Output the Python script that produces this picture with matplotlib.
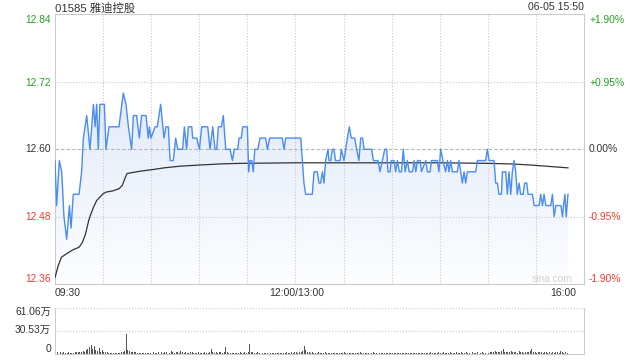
import numpy as np
import matplotlib
matplotlib.use('Agg')
import matplotlib.pyplot as plt
from matplotlib.patches import Polygon

plt.rcParams['font.family'] = ['Liberation Sans', 'Noto Sans CJK SC', 'DejaVu Sans']

# chart data (minutes from 09:30, trading minutes only; 150 = 12:00/13:00)
title = '01585 雅迪控股'
stamp = '06-05 15:50'
prev_close = 12.60

price_min = [0, 1, 2.7, 4.2, 5.6, 7.3, 9, 10, 11.4, 15, 16.6, 17.7, 19.8, 21.8, 24, 25, 26, 27, 28,
             30.8, 31.8, 33.7, 39.9, 42.6, 44.3, 45.8, 47.8, 48.9, 50.9, 52.6, 54, 56.8, 58.2, 58.9,
             59.9, 62.4, 63.8, 65.9, 68, 69.2, 70.7, 71.8, 73.8, 75.3, 76.5, 79.6, 80.7, 82.1, 83.2,
             85.3, 85.9, 88.4, 90.1, 91.5, 95.3, 96.7, 98.4, 99.8, 100.9, 101.9, 103.8, 105, 106.5,
             109.2, 110.7, 111.8, 114, 114.8, 116.2, 117.1, 120, 120.8, 121.6, 122.7, 123.7, 124.6,
             126.6, 127.9, 131.4, 132.5, 133.9, 141.8, 142.9, 143.9, 150, 153.3, 155.3, 156.4, 160.5,
             161.6, 163.6, 164.7, 165.7, 166.8, 167.8, 168.8, 170.3, 170.9, 172, 173, 174, 175, 177.8,
             178.6, 180.3, 181.3, 182.4, 183.6, 184.8, 186.9, 188.2, 189.6, 190.7, 191.9, 192.8, 197.5,
             198.6, 201.5, 202.7, 204.2, 205.7, 206.9, 207.7, 209, 209.8, 211.5, 212.5, 213.6, 214.8,
             216.1, 217.3, 218.4, 219.8, 220.9, 223, 224, 225.1, 226.1, 227.8, 228.6, 231.3, 232.3,
             234, 234.8, 238.5, 239.5, 240.6, 242, 243.7, 244.8, 245.8, 246.8, 247.9, 251, 252, 253.1,
             254.1, 255.2, 256.2, 257.2, 262.4, 263.5, 268.7, 269.7, 270.8, 273.9, 274.9, 276, 277,
             278.5, 279.1, 281.2, 282.2, 283.2, 284.3, 285.3, 286.4, 287.4, 288.4, 289.5, 290.5, 292,
             293, 294.3, 295.1, 297.8, 298.9, 302, 303, 304.1, 305.1, 306.2, 309.3, 310.3, 311.4,
             312.4, 315.6, 316.6, 317.2, 318.1, 318.9, 320]
price = [12.58, 12.50, 12.58, 12.56, 12.48, 12.44, 12.50, 12.46, 12.52, 12.52, 12.56, 12.62, 12.66,
         12.60, 12.68, 12.64, 12.68, 12.60, 12.68, 12.68, 12.60, 12.64, 12.64, 12.70, 12.68, 12.64,
         12.60, 12.66, 12.66, 12.62, 12.66, 12.66, 12.62, 12.64, 12.62, 12.64, 12.64, 12.68, 12.62,
         12.64, 12.64, 12.58, 12.58, 12.62, 12.60, 12.60, 12.64, 12.60, 12.64, 12.64, 12.62, 12.62,
         12.60, 12.64, 12.64, 12.60, 12.64, 12.60, 12.60, 12.64, 12.64, 12.66, 12.60, 12.60, 12.58,
         12.60, 12.60, 12.62, 12.62, 12.64, 12.64, 12.56, 12.58, 12.58, 12.56, 12.60, 12.60, 12.62,
         12.62, 12.60, 12.62, 12.62, 12.60, 12.62, 12.62, 12.62, 12.54, 12.52, 12.52,
         12.56, 12.56, 12.54, 12.54, 12.56, 12.54, 12.58, 12.60, 12.58, 12.58, 12.60, 12.60, 12.58,
         12.58, 12.60, 12.58, 12.60, 12.62, 12.64, 12.62, 12.62, 12.60, 12.58, 12.62, 12.62, 12.60,
         12.60, 12.58, 12.58, 12.56, 12.58, 12.60, 12.60, 12.56, 12.56, 12.58, 12.58, 12.56, 12.58,
         12.56, 12.56, 12.60, 12.56, 12.58, 12.56, 12.56, 12.58, 12.56, 12.58, 12.58, 12.56, 12.58,
         12.56, 12.56, 12.58, 12.58, 12.56, 12.60, 12.58, 12.56, 12.58, 12.56, 12.58, 12.56, 12.56,
         12.58, 12.56, 12.54, 12.56, 12.54, 12.56, 12.56, 12.58, 12.58, 12.60, 12.58, 12.58, 12.54,
         12.54, 12.52, 12.52, 12.56, 12.56, 12.52, 12.56, 12.52, 12.56, 12.58, 12.56, 12.52, 12.54,
         12.52, 12.52, 12.54, 12.54, 12.52, 12.52, 12.50, 12.50, 12.52, 12.50, 12.52, 12.50, 12.50,
         12.52, 12.48, 12.50, 12.50, 12.48, 12.50, 12.52, 12.48, 12.52]

avg_min = [0, 2, 4, 7, 11, 15, 17, 19, 21, 22, 24, 26, 28, 30, 32, 36, 40, 42, 44, 45, 53, 61, 68, 78,
           90, 103, 115, 150, 200, 240, 270, 284, 297, 320]
avg_price = [12.372, 12.393, 12.408, 12.414, 12.421, 12.426, 12.434, 12.449, 12.473, 12.482, 12.497,
             12.509, 12.515, 12.521, 12.524, 12.526, 12.530, 12.536, 12.551, 12.557, 12.561, 12.564,
             12.567, 12.570, 12.572, 12.574, 12.575, 12.576, 12.576, 12.576, 12.575, 12.574, 12.572,
             12.567]

# volume per minute, in 万 shares
volume = [6, 3, 2, 2, 1.5, 2, 1.5, 1, 2, 1.5, 1, 1.5, 2, 2.5, 2, 3, 2.5, 4, 3, 5,
          6, 9, 12, 7, 11, 5, 4, 8, 3, 5, 2, 3, 2, 1.5, 1, 1, 1.5, 1, 1, 1.5,
          1, 2, 3, 4, 27, 5, 4, 3, 2, 3, 2, 1.5, 1, 1, 1.5, 1, 1, 1, 1.5, 1,
          1.5, 2, 1, 1.5, 2, 8, 2, 1.5, 3, 2, 1.5, 1, 4, 2, 1.5, 3, 2, 1.5, 4, 2,
          1.5, 2, 1.5, 1, 3, 2, 1, 1, 1.5, 2, 1, 1.5, 1, 2, 1, 1.5, 3, 6, 2, 1.5,
          2, 1.5, 3, 2, 1.5, 2, 9, 2, 1.5, 1, 1.5, 1, 1, 1.5, 1, 2, 1.5, 1, 2, 1.5,
          2, 13, 3, 2, 1.5, 1, 2, 1, 1.5, 1, 1, 1, 1.5, 1, 1, 1, 1.5, 1, 1, 1.5,
          1, 1, 1.5, 1, 2, 1.5, 1, 2, 1.5, 3,
          2, 1.5, 2, 3, 4, 11, 5, 3, 2, 1.5, 2, 1.5, 1, 1.5, 2, 1, 1, 1.5, 2, 1,
          1.5, 1, 1, 1.5, 1, 1, 1.5, 1, 1, 1.5, 2, 1, 1.5, 1, 1, 1.5, 1, 1, 1.5, 1,
          2, 1.5, 1, 1, 1.5, 1, 1, 1.5, 2, 1.5, 1, 1, 1.5, 1, 1, 1.5, 1, 1, 1.5, 1,
          1, 1.5, 1, 1, 1.5, 1, 1, 1, 1.5, 1, 1, 1.5, 1, 1, 1.5, 1, 1, 1, 1.5, 1,
          1.5, 1, 1, 1.5, 2, 1, 1.5, 1, 1, 2, 1.5, 1, 2, 1.5, 1, 1.5, 2, 1, 1.5, 1,
          2, 1.5, 1, 2, 1.5, 1, 2, 1.5, 1, 1.5, 2, 1.5, 1, 2, 3, 1.5, 2, 1.5, 1, 2,
          1.5, 2, 3, 2, 4, 2, 3, 2, 4, 6, 3, 2, 3, 2, 4, 2, 3, 2, 1.5, 4,
          2, 3, 1.5, 2, 3, 2, 4, 7, 3, 2, 1.5, 2, 3, 2, 1.5, 2, 2, 1.5, 2, 1.5,
          2, 1.5, 2, 3, 1.5, 4, 2, 1.5, 2, 1.5]

y_labels = ['12.84', '12.72', '12.60', '12.48', '12.36']
pct_labels = ['+1.90%', '+0.95%', '0.00%', '-0.95%', '-1.90%']
vol_labels = ['61.06万', '30.53万', '0']
time_labels = ['09:30', '12:00/13:00', '16:00']

GREEN = '#22a022'
RED = '#ee3b30'
DARK = '#333333'
GRID = '#c8c8c8'
W, H = 640, 360


def fx(px):
    return px / W


def fy(py):
    return 1 - py / H


fig = plt.figure(figsize=(6.4, 3.6), dpi=100)

# price panel
ax = fig.add_axes([fx(55), fy(284.3), 529 / W, 270 / H])
ax.set_xlim(0, 330)
ax.set_ylim(12.36, 12.84)
ax.set_xticks([])
ax.set_yticks([])
for s in ax.spines.values():
    s.set_color('#cccccc')
    s.set_linewidth(0.8)

for m in range(30, 330, 30):
    ax.axvline(m, color=GRID, lw=0.8, ls=':', zorder=1)
for v in (12.72, 12.48):
    ax.axhline(v, color=GRID, lw=0.8, ls=':', zorder=1)
ax.axhline(prev_close, color='#b4b4b4', lw=0.8, dashes=(3, 2), zorder=1)

# gradient fill under the price line
grad = np.linspace(0, 1, 256).reshape(-1, 1)
top_c = np.array([0.84, 0.89, 0.97])
bot_c = np.array([0.99, 0.995, 1.0])
img = top_c[None, None, :] * (1 - grad[:, :, None]) + bot_c[None, None, :] * grad[:, :, None]
im = ax.imshow(img, extent=[0, 330, 12.36, 12.84], aspect='auto', origin='upper', zorder=0)
verts = list(zip(price_min, price)) + [(price_min[-1], 12.36), (price_min[0], 12.36)]
clip = Polygon(verts, closed=True, facecolor='none', edgecolor='none')
ax.add_patch(clip)
im.set_clip_path(clip)

ax.plot(avg_min, avg_price, color=DARK, lw=0.9, zorder=3)
ax.plot(price_min, price, color='#4a8cf0', lw=1.0, zorder=4)

# watermark
fig.text(fx(573), fy(279.5), 'sina.com', ha='right', va='center', fontsize=7.4, color='#d4d4d4')

# volume panel
vx = fig.add_axes([fx(55), fy(354), 529 / W, 46.3 / H])
vx.set_xlim(0, 330)
vx.set_ylim(0, 61.06)
vx.set_xticks([])
vx.set_yticks([])
vx.spines['top'].set_visible(False)
for s in ('left', 'right', 'bottom'):
    vx.spines[s].set_color('#cccccc')
    vx.spines[s].set_linewidth(0.8)
for v in (61.06, 30.53):
    vx.axhline(v, color=GRID, lw=0.8, ls=':', zorder=1)
vx.bar(np.arange(len(volume)) + 0.5, volume, width=0.6, color='#555555', zorder=2)

# texts
fig.text(fx(55), fy(8.3), title, ha='left', va='center', fontsize=8.2, color=DARK)
fig.text(fx(584), fy(7.5), stamp, ha='right', va='center', fontsize=7.6, color=DARK)

label_y = [20.3, 82.5, 149.3, 217.5, 279]
label_c = [GREEN, GREEN, DARK, RED, RED]
for lab, pct, yy, c in zip(y_labels, pct_labels, label_y, label_c):
    fig.text(fx(51), fy(yy), lab, ha='right', va='center', fontsize=7.4, color=c)
    fig.text(fx(589), fy(yy), pct, ha='left', va='center', fontsize=7.4, color=c)

fig.text(fx(55), fy(292.5), time_labels[0], ha='left', va='center', fontsize=7.5, color=DARK)
fig.text(fx(296.5), fy(292.5), time_labels[1], ha='center', va='center', fontsize=7.5, color=DARK)
fig.text(fx(576), fy(292.5), time_labels[2], ha='right', va='center', fontsize=7.5, color=DARK)

for lab, yy in zip(vol_labels, [312, 329.5, 348.5]):
    fig.text(fx(51), fy(yy), lab, ha='right', va='center', fontsize=7.4, color=DARK)

fig.savefig('out.png', dpi=100)
